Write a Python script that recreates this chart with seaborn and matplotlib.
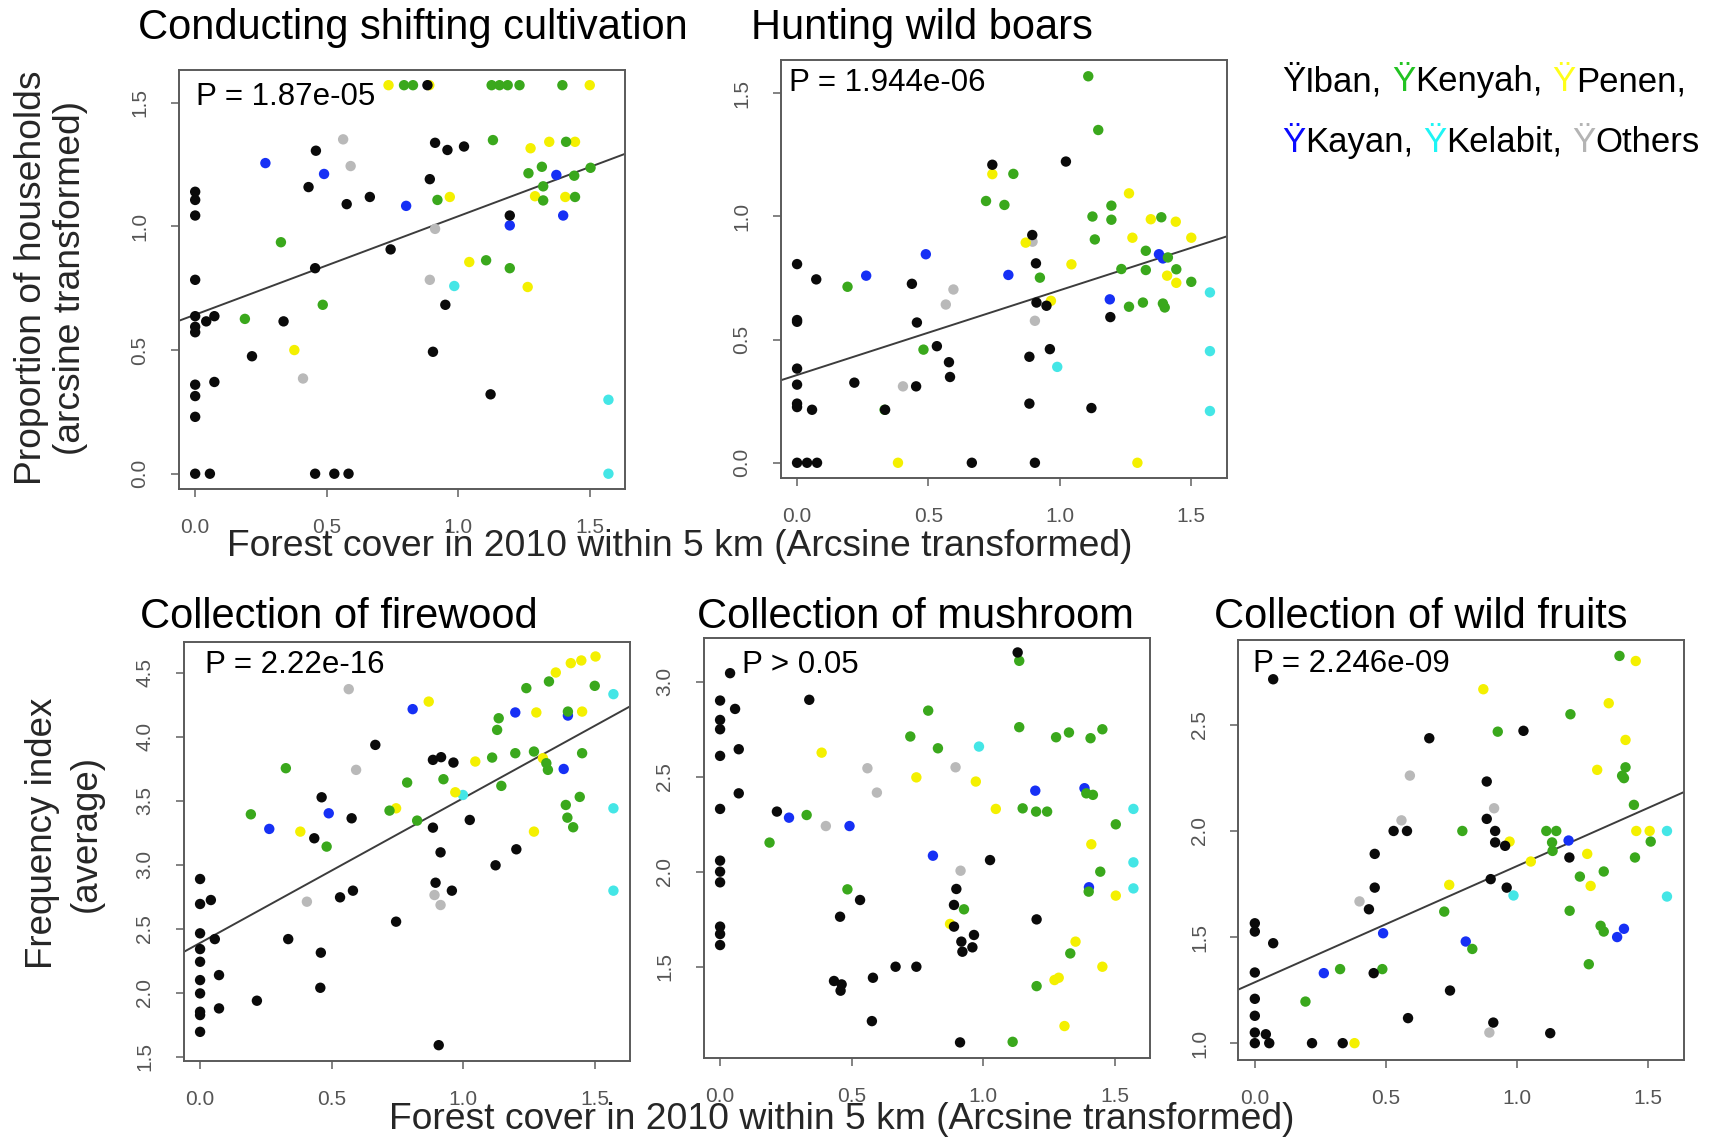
import matplotlib
matplotlib.use("Agg")
import matplotlib.pyplot as plt
import pandas as pd
import seaborn as sns
from matplotlib.ticker import FixedLocator, FormatStrFormatter
from matplotlib.offsetbox import TextArea, HPacker, AnchoredOffsetbox

# ---------------- data ----------------
GROUPS = ["Others", "Kelabit", "Kayan", "Penen", "Kenyah", "Iban"]

# Conducting shifting cultivation
CULT_IBAN = [(0, 0), (0.056, 0), (0.456, 0), (0.529, 0), (0.583, 0), (0, 0.230), (0, 0.314), (0, 0.36),
             (0.073, 0.371), (0, 0.572), (0, 0.594), (0, 0.637), (0.042, 0.616), (0.073, 0.637), (0, 0.784),
             (0, 1.044), (0, 1.107), (0, 1.14), (0.216, 0.475), (0.336, 0.616), (0.456, 0.831), (0.431, 1.159),
             (0.459, 1.306), (0.576, 1.09), (0.664, 1.119), (0.743, 0.907), (0.892, 1.191), (0.912, 1.338),
             (0.959, 1.309), (1.022, 1.323), (0.904, 0.493), (0.951, 0.683), (1.123, 0.321), (1.196, 1.044),
             (0.883, 1.571)]
CULT_KENYAH = [(0.189, 0.626), (0.326, 0.936), (0.485, 0.683), (0.921, 1.107), (1.106, 0.863), (1.196, 0.831),
               (1.132, 1.349), (1.267, 1.215), (1.318, 1.241), (1.323, 1.162), (1.323, 1.105), (1.41, 1.342),
               (1.441, 1.205), (1.444, 1.119), (1.503, 1.237), (0.794, 1.571), (0.828, 1.571), (1.127, 1.571),
               (1.157, 1.571), (1.188, 1.571), (1.233, 1.571), (1.396, 1.571)]
CULT_PENEN = [(0.377, 0.5), (0.968, 1.119), (1.042, 0.856), (1.264, 0.755), (1.275, 1.316), (1.346, 1.342),
              (1.444, 1.342), (1.292, 1.122), (1.407, 1.119), (0.735, 1.571), (0.89, 1.571), (1.5, 1.571)]
CULT_KAYAN = [(0.267, 1.256), (0.49, 1.212), (0.802, 1.083), (1.196, 1.004), (1.373, 1.208), (1.399, 1.044)]
CULT_OTHERS = [(0.5625, 1.352), (0.591, 1.244), (0.41, 0.385), (0.892, 0.784), (0.912, 0.99)]
CULT_KELABIT = [(0.985, 0.759), (1.571, 0.299), (1.571, 0.0)]

# Hunting wild boars
BOAR_IBAN = [(0, 0), (0.038, 0), (0.076, 0), (0.665, 0), (0.905, 0), (0, 0.24), (0, 0.226), (0.057, 0.215),
             (0, 0.317), (0, 0.382), (0.218, 0.325), (0.335, 0.215), (0.453, 0.31), (0, 0.579), (0, 0.572),
             (0, 0.806), (0.073, 0.744), (0.437, 0.726), (0.456, 0.569), (0.532, 0.473), (0.578, 0.408),
             (0.582, 0.348), (0.743, 1.209), (1.023, 1.222), (0.895, 0.924), (0.909, 0.809), (0.911, 0.65),
             (0.949, 0.637), (0.884, 0.43), (0.962, 0.461), (0.884, 0.24), (1.12, 0.222), (1.192, 0.591)]
BOAR_KENYAH = [(0.192, 0.714), (0.333, 0.215), (0.481, 0.459), (0.719, 1.062), (0.789, 1.046), (0.823, 1.172),
               (0.924, 0.751), (1.108, 1.568), (1.146, 1.35), (1.124, 0.999), (1.133, 0.906), (1.196, 1.043),
               (1.196, 0.986), (1.234, 0.786), (1.263, 0.633), (1.316, 0.65), (1.327, 0.86), (1.327, 0.782),
               (1.386, 0.996), (1.411, 0.833), (1.392, 0.646), (1.399, 0.63), (1.443, 0.785), (1.5, 0.734)]
BOAR_PENEN = [(0.384, 0), (1.295, 0), (0.743, 1.171), (0.87, 0.893), (0.966, 0.657), (1.044, 0.805),
              (1.263, 1.093), (1.276, 0.913), (1.346, 0.988), (1.441, 0.978), (1.5, 0.913), (1.408, 0.759),
              (1.443, 0.73)]
BOAR_KAYAN = [(0.263, 0.759), (0.49, 0.846), (0.804, 0.762), (1.19, 0.663), (1.377, 0.846), (1.392, 0.829)]
BOAR_OTHERS = [(0.403, 0.31), (0.566, 0.642), (0.595, 0.703), (0.896, 0.897), (0.905, 0.576)]
BOAR_KELABIT = [(0.99, 0.389), (1.571, 0.691), (1.571, 0.453), (1.571, 0.21)]

# Collection of firewood
FIRE_IBAN = [(0, 2.888), (0, 2.693), (0.041, 2.724), (0, 2.464), (0.056, 2.419), (0, 2.341), (0, 2.242),
             (0, 2.099), (0, 1.995), (0, 1.852), (0, 1.826), (0, 1.695), (0.072, 2.138), (0.072, 1.878),
             (0.216, 1.938), (0.335, 2.419), (0.459, 2.313), (0.457, 2.039), (0.434, 3.206), (0.462, 3.526),
             (0.532, 2.745), (0.581, 2.797), (0.576, 3.362), (0.666, 3.935), (0.745, 2.555), (0.885, 3.818),
             (0.916, 3.839), (0.963, 3.797), (0.885, 3.289), (0.914, 3.096), (0.895, 2.859), (0.957, 2.797),
             (0.907, 1.591), (1.025, 3.349), (1.123, 2.995), (1.202, 3.12)]
FIRE_KENYAH = [(0.193, 3.393), (0.326, 3.753), (0.481, 3.141), (0.72, 3.422), (0.787, 3.641), (0.825, 3.344),
               (0.925, 3.667), (1.11, 3.836), (1.145, 3.615), (1.135, 4.143), (1.129, 4.052), (1.198, 3.87),
               (1.24, 4.378), (1.269, 3.883), (1.316, 3.792), (1.322, 3.74), (1.326, 4.43), (1.398, 4.195),
               (1.39, 3.466), (1.396, 3.367), (1.418, 3.292), (1.443, 3.529), (1.452, 3.87), (1.5, 4.396)]
FIRE_PENEN = [(0.381, 3.258), (0.745, 3.44), (0.869, 4.273), (0.97, 3.565), (1.046, 3.805), (1.278, 4.188),
              (1.303, 3.831), (1.269, 3.258), (1.352, 4.5), (1.409, 4.573), (1.449, 4.594), (1.503, 4.625),
              (1.452, 4.195)]
FIRE_KAYAN = [(0.263, 3.279), (0.489, 3.401), (0.808, 4.214), (1.198, 4.188), (1.398, 4.164), (1.382, 3.747)]
FIRE_OTHERS = [(0.565, 4.37), (0.593, 3.74), (0.406, 2.711), (0.891, 2.763), (0.914, 2.685)]
FIRE_KELABIT = [(0.999, 3.544), (1.571, 4.331), (1.571, 3.44), (1.571, 2.797)]

# Collection of mushroom
MUSH_IBAN = [(0.038, 3.044), (0, 2.9), (0.057, 2.856), (0, 2.798), (0, 2.749), (0, 2.609), (0.071, 2.644),
             (0.071, 2.412), (0, 2.33), (0.339, 2.904), (0.216, 2.316), (0, 2.058), (0, 2.0), (0, 1.944),
             (0, 1.711), (0, 1.672), (0, 1.614), (0.532, 1.851), (0.456, 1.763), (0.433, 1.425), (0.462, 1.407),
             (0.458, 1.374), (0.581, 1.442), (0.577, 1.214), (0.667, 1.5), (0.746, 1.5), (0.898, 1.909),
             (0.889, 1.825), (0.889, 1.711), (0.917, 1.632), (0.965, 1.667), (0.921, 1.579), (0.959, 1.602),
             (1.026, 2.061), (0.912, 1.102), (1.131, 3.153), (1.203, 1.749)]
MUSH_KENYAH = [(0.188, 2.153), (0.329, 2.298), (0.484, 1.907), (0.723, 2.711), (0.791, 2.847), (0.828, 2.649),
               (0.927, 1.802), (1.137, 3.109), (1.137, 2.76), (1.15, 2.333), (1.201, 2.316), (1.243, 2.316),
               (1.277, 2.707), (1.326, 2.732), (1.408, 2.702), (1.453, 2.749), (1.392, 2.412), (1.417, 2.404),
               (1.504, 2.249), (1.445, 2.0), (1.401, 1.895), (1.331, 1.57), (1.203, 1.398), (1.112, 1.105)]
MUSH_PENEN = [(0.386, 2.626), (0.746, 2.496), (0.972, 2.474), (1.048, 2.33), (0.874, 1.725), (1.411, 2.144),
              (1.504, 1.874), (1.351, 1.632), (1.453, 1.5), (1.271, 1.43), (1.287, 1.442), (1.309, 1.188)]
MUSH_KAYAN = [(0.262, 2.284), (0.492, 2.24), (0.809, 2.084), (1.198, 2.426), (1.385, 2.439), (1.402, 1.918)]
MUSH_OTHERS = [(0.56, 2.544), (0.596, 2.416), (0.402, 2.24), (0.895, 2.549), (0.914, 2.005)]
MUSH_KELABIT = [(0.984, 2.658), (1.571, 2.33), (1.571, 2.049), (1.571, 1.912)]

# Collection of wild fruits
FRUIT_IBAN = [(0.07, 2.715), (0, 1.565), (0, 1.526), (0.07, 1.471), (0, 1.333), (0, 1.209), (0, 1.129),
              (0, 1.05), (0.042, 1.042), (0, 1.0), (0.055, 1.0), (0.218, 1.0), (0.335, 1.0), (0.453, 1.33),
              (0.435, 1.631), (0.457, 1.733), (0.457, 1.892), (0.529, 2.0), (0.58, 2.0), (0.665, 2.437),
              (0.744, 1.248), (0.584, 1.118), (0.884, 2.233), (0.884, 2.057), (0.916, 2.0), (0.916, 1.946),
              (0.954, 1.93), (0.899, 1.773), (0.96, 1.733), (0.909, 1.097), (1.024, 2.472), (1.126, 1.047),
              (1.199, 1.875)]
FRUIT_KENYAH = [(0.193, 1.196), (0.325, 1.349), (0.486, 1.349), (0.722, 1.62), (0.791, 2.0), (0.829, 1.444),
                (0.926, 2.468), (1.111, 2.0), (1.149, 2.0), (1.133, 1.946), (1.135, 1.906), (1.203, 2.55),
                (1.239, 1.785), (1.2, 1.624), (1.273, 1.372), (1.33, 1.809), (1.318, 1.553), (1.33, 1.526),
                (1.39, 2.825), (1.4, 2.26), (1.413, 2.3), (1.407, 2.249), (1.445, 2.123), (1.449, 1.875),
                (1.509, 1.95)]
FRUIT_PENEN = [(0.38, 1.0), (0.741, 1.746), (0.871, 2.668), (0.971, 1.95), (1.052, 1.856), (1.305, 2.288),
               (1.267, 1.892), (1.28, 1.741), (1.349, 2.602), (1.413, 2.429), (1.452, 2.801), (1.454, 2.0),
               (1.505, 2.0)]
FRUIT_KAYAN = [(0.263, 1.33), (0.489, 1.518), (0.804, 1.479), (1.196, 1.955), (1.381, 1.5), (1.407, 1.539)]
FRUIT_OTHERS = [(0.591, 2.261), (0.559, 2.05), (0.399, 1.668), (0.912, 2.107), (0.894, 1.05)]
FRUIT_KELABIT = [(0.986, 1.696), (1.571, 2.0), (1.571, 1.691)]

TITLES = ["Conducting shifting cultivation", "Hunting wild boars", "Collection of firewood",
          "Collection of mushroom", "Collection of wild fruits"]
P_LABELS = ["P = 1.87e-05", "P = 1.944e-06", "P = 2.22e-16", "P > 0.05", "P = 2.246e-09"]
# fitted regression lines (intercept, slope); None = not significant
FIT_INTERCEPTS = [0.643, 0.356, 2.389, None, 1.287]
FIT_SLOPES = [0.398, 0.344, 1.13, None, 0.548]
X_TICKS = [0.0, 0.5, 1.0, 1.5]
Y_TICKS = [[0.0, 0.5, 1.0, 1.5], [0.0, 0.5, 1.0, 1.5], [1.5, 2.0, 2.5, 3.0, 3.5, 4.0, 4.5],
           [1.5, 2.0, 2.5, 3.0], [1.0, 1.5, 2.0, 2.5]]
X_LABEL = "Forest cover in 2010 within 5 km (Arcsine transformed)"
Y_LABEL_TOP = "Proportion of households\n(arcsine transformed)"
Y_LABEL_BOTTOM = "Frequency index\n(average)"
LEGEND_ROW1 = ["Iban,", "Kenyah,", "Penen,"]
LEGEND_ROW2 = ["Kayan,", "Kelabit,", "Others"]

PANELS = [
    dict(Iban=CULT_IBAN, Kenyah=CULT_KENYAH, Penen=CULT_PENEN, Kayan=CULT_KAYAN, Others=CULT_OTHERS, Kelabit=CULT_KELABIT),
    dict(Iban=BOAR_IBAN, Kenyah=BOAR_KENYAH, Penen=BOAR_PENEN, Kayan=BOAR_KAYAN, Others=BOAR_OTHERS, Kelabit=BOAR_KELABIT),
    dict(Iban=FIRE_IBAN, Kenyah=FIRE_KENYAH, Penen=FIRE_PENEN, Kayan=FIRE_KAYAN, Others=FIRE_OTHERS, Kelabit=FIRE_KELABIT),
    dict(Iban=MUSH_IBAN, Kenyah=MUSH_KENYAH, Penen=MUSH_PENEN, Kayan=MUSH_KAYAN, Others=MUSH_OTHERS, Kelabit=MUSH_KELABIT),
    dict(Iban=FRUIT_IBAN, Kenyah=FRUIT_KENYAH, Penen=FRUIT_PENEN, Kayan=FRUIT_KAYAN, Others=FRUIT_OTHERS, Kelabit=FRUIT_KELABIT),
]

# ---------------- styles / layout ----------------
POINT_COLORS = {"Iban": "#0a0a0a", "Kenyah": "#3aa81c", "Penen": "#f4f000", "Kayan": "#1630f5",
                "Kelabit": "#44e6e6", "Others": "#b9b9b9"}
LEGEND_COLORS = {"Iban": "#000000", "Kenyah": "#22c322", "Penen": "#ffff1a", "Kayan": "#0a0aff",
                 "Kelabit": "#1ef5f5", "Others": "#b4b4b4"}
W, H = 1732, 1138
# axes boxes in pixels: left, top, right, bottom
BOXES = [(178.6, 69.6, 625, 489.3), (780.5, 60, 1226.5, 478.3), (183.5, 641.5, 630, 1060.8),
         (703.5, 638.2, 1150, 1057.8), (1238.3, 640, 1683.5, 1059.5)]
XLIM = (-0.063, 1.634)
YLIMS = [(-0.063, 1.634), (-0.063, 1.634), (1.469, 4.742), (1.021, 3.228), (0.923, 2.9)]
TITLE_POS = [(413, 39), (922, 39), (339, 628), (915, 628), (1421, 628)]
P_POS = [(196, 105), (789, 91), (205, 673), (742, 673), (1253, 672)]
FONT = ["Liberation Sans", "DejaVu Sans"]

sns.set_style("white")
plt.rcParams["font.family"] = FONT


def fx(px):
    return px / W


def fy(py):
    return 1 - py / H


fig = plt.figure(figsize=(W / 100, H / 100), dpi=100)
fig.patch.set_facecolor("white")

for i, panel in enumerate(PANELS):
    l, t, r, b = BOXES[i]
    ax = fig.add_axes([fx(l), fy(b), (r - l) / W, (b - t) / H])
    rows = []
    for g in GROUPS:
        for (xv, yv) in panel[g]:
            rows.append({"x": xv, "y": yv, "group": g})
    df = pd.DataFrame(rows)
    sns.scatterplot(data=df, x="x", y="y", hue="group", hue_order=GROUPS, palette=POINT_COLORS,
                    s=56, linewidth=0, legend=False, ax=ax, zorder=3)
    if FIT_INTERCEPTS[i] is not None:
        ax.axline((0, FIT_INTERCEPTS[i]), slope=FIT_SLOPES[i], color="#3c3c3c", lw=1.4, zorder=2)
    ax.set_xlim(*XLIM)
    ax.set_ylim(*YLIMS[i])
    ax.xaxis.set_major_locator(FixedLocator(X_TICKS))
    ax.yaxis.set_major_locator(FixedLocator(Y_TICKS[i]))
    ax.xaxis.set_major_formatter(FormatStrFormatter("%.1f"))
    ax.yaxis.set_major_formatter(FormatStrFormatter("%.1f"))
    ax.set_xlabel("")
    ax.set_ylabel("")
    ax.tick_params(axis="both", which="major", direction="out", length=6, width=1.1,
                   color="#606060", labelcolor="#555555", labelsize=15, pad=15,
                   bottom=True, left=True, top=False, right=False)
    ax.tick_params(axis="y", labelrotation=90)
    for lab in ax.get_yticklabels():
        lab.set_va("center")
    for sp in ax.spines.values():
        sp.set_visible(True)
        sp.set_color("#5a5a5a")
        sp.set_linewidth(1.4)
    fig.text(fx(TITLE_POS[i][0]), fy(TITLE_POS[i][1]), TITLES[i], ha="center", va="baseline",
             fontsize=30, color="black")
    fig.text(fx(P_POS[i][0]), fy(P_POS[i][1]), P_LABELS[i], ha="left", va="baseline",
             fontsize=22.5, color="black")

# shared axis labels
fig.text(fx(680), fy(556), X_LABEL, ha="center", va="baseline", fontsize=26.8)
fig.text(fx(842), fy(1129), X_LABEL, ha="center", va="baseline", fontsize=26.8)
fig.text(fx(51), fy(278), Y_LABEL_TOP, rotation=90, ha="center", va="center",
         multialignment="center", fontsize=26.8, linespacing=1.15)
fig.text(fx(64), fy(833), Y_LABEL_BOTTOM, rotation=90, ha="center", va="center",
         multialignment="center", fontsize=26.5, linespacing=1.33)

# coloured-symbol legend text
def legend_row(names, groups):
    items = []
    for name, g in zip(names, groups):
        sym = TextArea("Ÿ", textprops=dict(color=LEGEND_COLORS[g], fontsize=25, family=FONT))
        txt = TextArea(name, textprops=dict(color="black", fontsize=25, family=FONT))
        items.append(HPacker(children=[sym, txt], sep=0, pad=0, align="baseline"))
    return HPacker(children=items, sep=7, pad=0, align="baseline")


for names, groups, base in [(LEGEND_ROW1, ["Iban", "Kenyah", "Penen"], 90),
                            (LEGEND_ROW2, ["Kayan", "Kelabit", "Others"], 151)]:
    box = AnchoredOffsetbox(loc="lower left", child=legend_row(names, groups), pad=0, borderpad=0,
                            frameon=False, bbox_to_anchor=(fx(1282), fy(base + 8)),
                            bbox_transform=fig.transFigure)
    fig.add_artist(box)

fig.savefig("out.png", dpi=100, facecolor="white")
